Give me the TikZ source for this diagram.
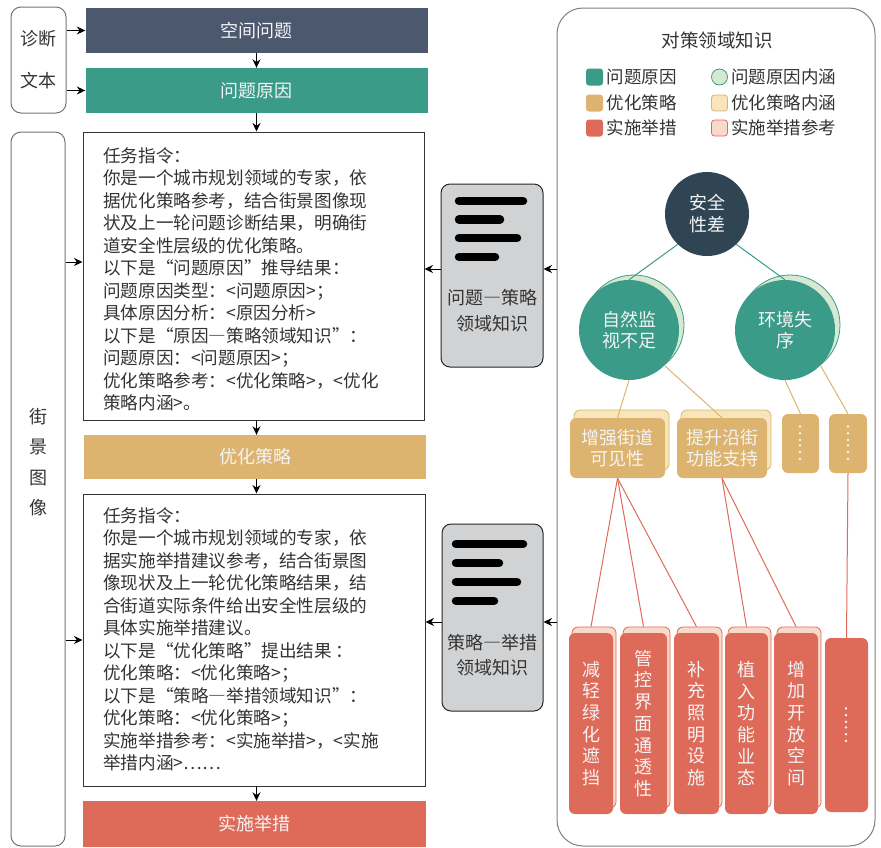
\documentclass[tikz,border=0pt]{standalone}
\usepackage{fontspec}
\setmainfont{Noto Sans CJK SC}
\usetikzlibrary{arrows.meta,calc}
\newcommand{\fw}[1]{{\addfontfeature{CharacterWidth=Full}#1}}
\definecolor{cslate}{HTML}{4B586E}
\definecolor{cteal}{HTML}{3A9B88}
\definecolor{ctan}{HTML}{DDB46F}
\definecolor{cred}{HTML}{DE6B59}
\definecolor{croot}{HTML}{2F4554}
\definecolor{cltgreen}{HTML}{D6E9D3}
\definecolor{clttan}{HTML}{F8E5BC}
\definecolor{cltpink}{HTML}{F9D9CA}
\definecolor{cgray}{HTML}{D1D2D4}
\definecolor{ctext}{HTML}{333333}
\definecolor{cwtext}{HTML}{F4F4F4}
\begin{document}
\begin{tikzpicture}[x=1pt,y=-1pt,
  every node/.style={font=\fontsize{18}{22.4}\selectfont, text=ctext},
  hdr/.style={rectangle, minimum width=342pt, minimum height=45pt, inner sep=0pt, text=cwtext},
  prompt/.style={rectangle, draw=black!80, line width=1pt, inner sep=0pt},
  ptext/.style={anchor=north west, inner sep=0pt, align=left, font=\fontsize{17.6}{22.5}\selectfont},
  lbox/.style={rectangle, draw=black!55, line width=1pt, rounded corners=10pt, inner sep=0pt},
  kn/.style={rectangle, draw=black!85, fill=cgray, line width=1pt, rounded corners=9pt, inner sep=0pt},
  bar/.style={line width=8.5pt, line cap=round, black},
  arr/.style={-{Stealth[length=8.5pt,width=8pt]}, line width=1pt, black},
  panel/.style={rectangle, draw=black!50, line width=1pt, rounded corners=26pt, inner sep=0pt},
  legsq/.style={rectangle, rounded corners=3pt, minimum size=17pt, inner sep=0pt},
  legtext/.style={anchor=west, font=\fontsize{17.5}{21}\selectfont},
  rootc/.style={circle, fill=croot, minimum size=84pt, inner sep=0pt, text=cwtext, align=center, font=\fontsize{18}{22}\selectfont},
  causec/.style={circle, fill=cteal, minimum size=100pt, inner sep=0pt, text=cwtext, align=center, font=\fontsize{18}{21.5}\selectfont},
  causeb/.style={circle, fill=cltgreen, draw=cteal, line width=0.8pt, minimum size=100pt, inner sep=0pt},
  strat/.style={rectangle, fill=ctan, rounded corners=6pt, inner sep=0pt, minimum height=60pt, text=cwtext, align=center, font=\fontsize{18}{21}\selectfont},
  stratb/.style={rectangle, fill=clttan, draw=ctan, line width=0.8pt, rounded corners=6pt, inner sep=0pt, minimum height=60pt},
  meas/.style={rectangle, fill=cred, rounded corners=6pt, inner sep=0pt, minimum height=181pt, text=cwtext, align=center, font=\fontsize{18}{21.7}\selectfont},
  measb/.style={rectangle, fill=cltpink, draw=cred, line width=0.8pt, rounded corners=6pt, inner sep=0pt, minimum height=181pt},
  tealedge/.style={cteal, line width=1pt},
  tanedge/.style={ctan, line width=1pt},
  rededge/.style={cred, line width=1pt},
  dots/.style={rotate=90, text=cwtext, inner sep=0pt, font=\fontsize{18}{18}\selectfont}
]
\useasboundingbox (0,0) rectangle (881,847);

% ---------- left column ----------
\node[lbox, minimum width=55pt, minimum height=106pt, align=center, font=\fontsize{18}{42}\selectfont] (zd) at (38.5,60) {诊断\\文本};
\node[lbox, minimum width=54pt, minimum height=714pt] (jj) at (38,489) {};
\node[align=center, font=\fontsize{18}{30.5}\selectfont] (jjt) at (38,462) {街\\景\\图\\像};

\node[hdr, fill=cslate] (kj) at (256.5,30.5) {空间问题};
\node[hdr, fill=cteal] (yy) at (256.5,90.5) {问题原因};
\node[prompt, minimum width=341pt, minimum height=288pt] (p1) at (253.5,276) {};
\node[ptext] (p1t) at (103,147) {任务指令：\\
你是一个城市规划领域的专家，依\\
据优化策略参考，结合街景图像现\\
状及上一轮问题诊断结果，明确街\\
道安全性层级的优化策略。\\
以下是\fw{“}问题原因\fw{”}推导结果：\\
问题原因类型：<问题原因>；\\
具体原因分析：<原因分析>\\
以下是\fw{“}原因\fw{—}策略领域知识\fw{”}：\\
问题原因：<问题原因>；\\
优化策略参考：<优化策略>，<优化\\
策略内涵>。};
\node[hdr, fill=ctan, minimum width=342pt, minimum height=44pt] (cl) at (255,457) {优化策略};
\node[prompt, minimum width=342pt, minimum height=292pt] (p2) at (254,640) {};
\node[ptext] (p2t) at (103,507) {任务指令：\\
你是一个城市规划领域的专家，依\\
据实施举措建议参考，结合街景图\\
像现状及上一轮优化策略结果，结\\
合街道实际条件给出安全性层级的\\
具体实施举措建议。\\
以下是\fw{“}优化策略\fw{”}提出结果 ：\\
优化策略：<优化策略>；\\
以下是\fw{“}策略\fw{—}举措领域知识\fw{”}：\\
优化策略：<优化策略>；\\
实施举措参考：<实施举措>，<实施\\
举措内涵>……};
\node[hdr, fill=cred, minimum width=343pt, minimum height=46pt] (js) at (254.5,824) {实施举措};

\draw[arr] (zd.east |- kj) -- (kj.west);
\draw[arr] (zd.east |- yy) -- (yy.west);
\draw[arr] (jj.east |- 0,262) -- (p1.west |- 0,262);
\draw[arr] (jj.east |- p2.west) -- (p2.west);
\draw[arr] (kj.south) -- (yy.north);
\draw[arr] (yy.south) -- (yy.south |- p1.north);
\draw[arr] (p1.south -| yy.south) -- (yy.south |- cl.north);
\draw[arr] (cl.south -| yy.south) -- (yy.south |- p2.north);
\draw[arr] (p2.south -| yy.south) -- (yy.south |- js.north);

% ---------- knowledge boxes ----------
\node[kn, minimum width=102pt, minimum height=183pt] (k1) at (492,275.5) {};
\draw[bar] (459,201) -- (523,201);
\draw[bar] (459,219.5) -- (500,219.5);
\draw[bar] (459,238) -- (517,238);
\draw[bar] (459,257) -- (495,257);
\node[align=center, font=\fontsize{18}{26}\selectfont] (k1t) at (492,311) {问题\fw{—}策略\\领域知识};

\node[kn, minimum width=101pt, minimum height=187pt] (k2) at (492.5,617.5) {};
\draw[bar] (456,544) -- (523,544);
\draw[bar] (456,563) -- (499,563);
\draw[bar] (456,582) -- (517,582);
\draw[bar] (456,601) -- (494,601);
\node[align=center, font=\fontsize{18}{25}\selectfont] (k2t) at (492.5,655.5) {策略\fw{—}举措\\领域知识};

% ---------- right panel ----------
\node[panel, minimum width=318pt, minimum height=838pt] (rp) at (716,427) {};
\node[font=\fontsize{18.5}{22}\selectfont] (rpt) at (717,40) {对策领域知识};

\node[legsq, fill=cteal] (l1) at (594.5,77) {};
\node[legtext] (l1t) at (l1.east) {问题原因};
\node[legsq, fill=ctan] (l2) at (594.5,103) {};
\node[legtext] (l2t) at (l2.east) {优化策略};
\node[legsq, fill=cred] (l3) at (594.5,128) {};
\node[legtext] (l3t) at (l3.east) {实施举措};
\node[circle, fill=cltgreen, draw=cteal, line width=0.8pt, minimum size=16pt, inner sep=0pt] (l4) at (719.5,77) {};
\node[legtext] (l4t) at (l4.east) {问题原因内涵};
\node[legsq, fill=clttan, draw=ctan, line width=0.8pt, minimum size=16pt] (l5) at (719.5,103) {};
\node[legtext] (l5t) at (l5.east) {优化策略内涵};
\node[legsq, fill=cltpink, draw=cred, line width=0.8pt, minimum size=16pt] (l6) at (719.5,128) {};
\node[legtext] (l6t) at (l6.east) {实施举措参考};

% tree
\node[rootc] (root) at (707,214) {安全\\性差};
\node[causeb] (c1b) at (634,325) {};
\node[causec] (c1) at (629,330) {自然监\\视不足};
\node[causeb] (c2b) at (790,325) {};
\node[causec] (c2) at (785,330) {环境失\\序};

\node[stratb, minimum width=95pt] (s1b) at (621.5,440) {};
\node[strat, minimum width=95pt] (s1) at (617.5,448) {增强街道\\可见性};
\node[stratb, minimum width=90pt] (s2b) at (726,440) {};
\node[strat, minimum width=90pt] (s2) at (722,448) {提升沿街\\功能支持};
\node[strat, minimum width=37pt, minimum height=59pt] (d1) at (800.5,443.5) {};
\node[dots] (d1t) at (d1) {……};
\node[strat, minimum width=38pt, minimum height=59pt] (d2) at (848,443.5) {};
\node[dots] (d2t) at (d2) {……};

\node[measb, minimum width=44pt] (m1b) at (594,717.5) {};
\node[meas, minimum width=44pt] (m1) at (591,723.5) {减\\轻\\绿\\化\\遮\\挡};
\node[measb, minimum width=47pt] (m2b) at (646.5,717.5) {};
\node[meas, minimum width=47pt] (m2) at (643.5,723.5) {管\\控\\界\\面\\通\\透\\性};
\node[measb, minimum width=45pt] (m3b) at (699.5,717.5) {};
\node[meas, minimum width=45pt] (m3) at (696.5,723.5) {补\\充\\照\\明\\设\\施};
\node[measb, minimum width=43pt] (m4b) at (749.5,717.5) {};
\node[meas, minimum width=43pt] (m4) at (746.5,723.5) {植\\入\\功\\能\\业\\态};
\node[measb, minimum width=44pt] (m5b) at (799,717.5) {};
\node[meas, minimum width=44pt] (m5) at (796,723.5) {增\\加\\开\\放\\空\\间};
\node[meas, minimum width=43pt, minimum height=174pt] (m6) at (846.5,725) {};
\node[dots] (m6t) at (m6) {……};

\draw[tealedge] (root.226) -- (c1.north);
\draw[tealedge] (root.314) -- (c2.north);
\draw[tanedge] (c1.south) -- (s1.north);
\draw[tanedge] (c1.315) -- (s2.north);
\draw[tanedge] (c2.south) -- (d1.north);
\draw[tanedge] (c2.315) -- (d2.north);
\draw[rededge] (s1.south) -- (m1.north |- m1b.north);
\draw[rededge] (s1.south) -- (m2.north |- m2b.north);
\draw[rededge] (s1.south) -- (m3.north |- m3b.north);
\draw[rededge] (s2.south) -- (m4.north |- m4b.north);
\draw[rededge] (s2.south) -- (m5.north |- m5b.north);
\draw[rededge] (d2.south) -- (m6.north);

\draw[arr] (rp.west |- 0,269) -- (k1.east |- 0,269);
\draw[arr] (k1.west |- 0,269) -- (p1.east |- 0,269);
\draw[arr] (rp.west |- 0,622) -- (k2.east |- 0,622);
\draw[arr] (k2.west |- 0,622) -- (p2.east |- 0,622);
\end{tikzpicture}
\end{document}
